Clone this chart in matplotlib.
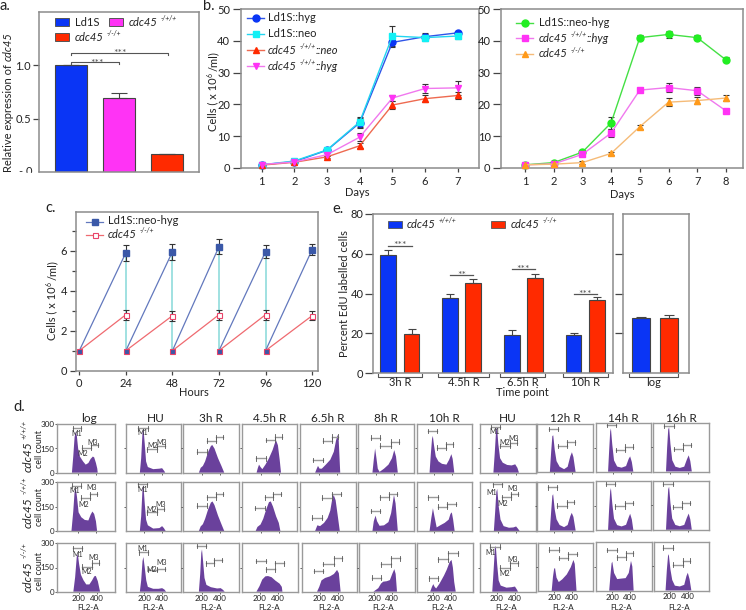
import matplotlib
matplotlib.use('Agg')
import matplotlib.pyplot as plt
from matplotlib.patches import Rectangle

plt.rcParams['font.family'] = ['Lato', 'DejaVu Sans']

W, H = 746, 610
GREY = '#8c8c8c'
TXT = '#222222'
BLUE = '#0a35f5'
RED = '#ff2a00'
MAG = '#ff33f5'
PURPLE = '#6a419c'

# ---------- panel a
a_values = [1.0, 0.69, 0.165]
a_errors = [0.0, 0.05, 0.006]
a_positions = [71, 119, 167]
a_colors = [BLUE, MAG, RED]

# ---------- panel b left
days7 = [1, 2, 3, 4, 5, 6, 7]
b_hyg = [1.0, 2.0, 5.6, 14.2, 39.5, 41.3, 42.5]
b_hyg_err = [0.2, 0.3, 0.4, 1.5, 1.0, 1.0, 0.7]
b_neo = [1.0, 2.2, 5.7, 14.5, 41.5, 41.0, 41.5]
b_neo_err = [0.2, 0.3, 0.4, 1.5, 3.3, 1.0, 0.8]
b_cneo = [0.9, 1.8, 3.5, 7.0, 19.8, 21.8, 22.8]
b_cneo_err = [0.1, 0.3, 0.3, 0.8, 1.2, 1.2, 1.0]
b_chyg = [1.1, 1.9, 4.2, 9.7, 22.0, 25.0, 25.2]
b_chyg_err = [0.2, 0.3, 0.5, 1.3, 1.0, 1.4, 2.3]

# ---------- panel b right
days8 = [1, 2, 3, 4, 5, 6, 7, 8]
b2_wt = [1.0, 1.7, 5.0, 14.2, 41.0, 42.0, 41.0, 34.0]
b2_wt_err = [0.1, 0.2, 0.4, 1.8, 0.9, 1.2, 0.9, 0.8]
b2_chyg = [1.0, 1.3, 4.3, 11.0, 24.5, 25.3, 24.3, 18.0]
b2_chyg_err = [0.1, 0.2, 0.5, 1.2, 0.7, 1.3, 1.3, 0.7]
b2_ko = [1.0, 1.2, 1.7, 4.6, 13.0, 20.7, 21.2, 22.0]
b2_ko_err = [0.1, 0.1, 0.4, 0.5, 0.6, 1.2, 1.2, 0.9]

# ---------- panel c
hours = [24, 48, 72, 96, 120]
c_wt = [5.9, 5.95, 6.2, 5.95, 6.05]
c_wt_err = [0.4, 0.4, 0.38, 0.32, 0.28]
c_ko = [2.8, 2.75, 2.8, 2.8, 2.75]
c_ko_err = [0.25, 0.25, 0.25, 0.25, 0.24]
c_start = 1.0

# ---------- panel e
e_groups = ['3h R', '4.5h R', '6.5h R', '10h R']
e_blue = [59.5, 38.0, 19.3, 19.3]
e_blue_err = [2.5, 1.7, 2.5, 0.7]
e_red = [19.8, 45.5, 48.0, 36.8]
e_red_err = [2.3, 1.7, 1.8, 1.4]
e_blue_x = [388.2, 450.2, 511.8, 573.5]
e_red_x = [411.5, 473.2, 535.0, 596.8]
e_sig_y = [64.1, 49.2, 52.2, 39.8]
e_sig_txt = ['***', '**', '***', '***']
e_log = [27.8, 28.0]
e_log_err = [0.3, 1.5]
e_log_x = [641.2, 668.7]

# ---------- panel d: histogram outlines as (FL2-A, count)
hist_titles = ['log', 'HU', '3h R', '4.5h R', '6.5h R', '8h R', '10h R', 'HU', '12h R', '14h R', '16h R']
r1_log = [(135,0),(150,100),(165,220),(178,255),(190,230),(205,150),(225,100),(260,70),(290,50),(320,60),(345,85),(370,100),(385,95),(405,60),(420,25),(425,0)]
r1_hu = [(150,0),(165,90),(180,250),(190,275),(205,180),(220,70),(240,35),(300,22),(370,25),(400,28),(425,10),(435,0)]
r1_3h = [(165,0),(185,30),(210,42),(235,70),(270,130),(300,165),(315,172),(340,150),(380,90),(420,40),(450,0)]
r1_45h = [(150,0),(165,30),(178,50),(195,35),(215,22),(250,50),(290,90),(330,140),(360,190),(372,197),(390,170),(410,80),(425,0)]
r1_65h = [(160,0),(178,25),(192,42),(210,25),(235,25),(280,50),(330,80),(370,130),(395,200),(412,235),(425,200),(442,0)]
r1_8h = [(160,0),(175,80),(190,150),(205,90),(220,25),(240,5),(290,25),(340,50),(380,90),(405,140),(425,100),(445,0)]
r1_10h = [(150,0),(165,120),(178,210),(187,228),(200,170),(220,100),(250,70),(290,55),(340,50),(370,80),(395,115),(410,85),(428,0)]
r1_hu2 = [(145,0),(160,120),(175,260),(185,285),(200,180),(220,90),(250,62),(300,48),(350,45),(390,52),(415,30),(432,0)]
r1_12h = [(150,0),(165,130),(178,225),(188,230),(205,140),(225,70),(260,35),(310,20),(350,35),(380,100),(398,125),(415,95),(440,0)]
r1_14h = [(148,0),(160,130),(172,250),(180,268),(195,170),(215,70),(250,32),(300,25),(350,35),(380,80),(396,95),(415,60),(432,0)]
r1_16h = [(155,0),(168,150),(180,260),(190,275),(205,170),(225,70),(260,30),(310,22),(360,30),(390,75),(410,100),(428,65),(445,0)]

r2_log = [(130,0),(150,120),(165,240),(178,265),(192,210),(210,115),(240,85),(280,68),(320,65),(345,100),(365,120),(385,105),(405,60),(418,0)]
r2_hu = [(150,0),(165,90),(180,260),(190,285),(205,170),(220,70),(240,35),(300,15),(370,18),(400,30),(420,18),(440,0)]
r2_3h = [(165,0),(185,28),(210,42),(235,75),(270,135),(300,175),(318,182),(340,160),(380,95),(420,40),(450,0)]
r2_45h = [(140,0),(160,25),(195,40),(225,75),(260,135),(290,178),(310,182),(335,150),(370,90),(400,50),(418,0)]
r2_65h = [(160,0),(185,35),(215,30),(260,50),(300,80),(330,125),(350,190),(368,222),(390,190),(415,90),(437,0)]
r2_8h = [(160,0),(175,60),(195,95),(212,60),(240,32),(290,35),(340,55),(370,110),(390,180),(402,222),(420,170),(445,0)]
r2_10h = [(150,0),(170,80),(188,140),(205,90),(230,22),(270,35),(320,50),(365,70),(385,105),(400,115),(415,70),(432,0)]
r2_hu2 = [(150,0),(165,120),(178,240),(188,260),(205,150),(225,70),(260,30),(320,20),(370,22),(400,28),(420,15),(440,0)]
r2_12h = [(150,0),(165,120),(178,215),(187,225),(205,130),(225,70),(260,35),(310,22),(350,35),(380,90),(396,110),(415,85),(440,0)]
r2_14h = [(148,0),(160,130),(172,240),(180,258),(195,165),(215,70),(250,30),(300,22),(350,32),(380,78),(396,100),(415,65),(432,0)]
r2_16h = [(155,0),(168,140),(180,250),(190,265),(205,165),(225,70),(260,30),(310,22),(360,30),(390,75),(410,100),(428,65),(445,0)]

r3_log = [(140,0),(160,90),(178,215),(190,235),(205,170),(225,105),(255,70),(285,45),(320,45),(350,70),(375,95),(392,98),(415,65),(440,0)]
r3_hu = [(150,0),(165,70),(180,190),(190,215),(205,150),(222,70),(240,30),(300,18),(360,18),(400,22),(425,14),(445,0)]
r3_3h = [(165,0),(180,110),(192,240),(200,262),(212,190),(228,85),(250,42),(300,28),(370,20),(410,22),(435,12),(455,0)]
r3_45h = [(160,0),(195,35),(225,75),(260,95),(290,97),(330,90),(370,70),(420,50),(445,30),(452,0)]
r3_65h = [(170,0),(195,30),(220,70),(260,85),(315,95),(360,110),(395,135),(415,115),(435,0)]
r3_8h = [(190,0),(220,12),(245,22),(275,50),(300,62),(340,65),(375,72),(405,115),(425,140),(440,110),(455,0)]
r3_10h = [(165,0),(185,30),(200,47),(215,30),(232,20),(270,50),(320,100),(350,135),(385,185),(405,197),(420,150),(435,60),(452,0)]
r3_hu2 = [(150,0),(165,130),(180,270),(190,285),(205,170),(222,70),(245,38),(310,25),(370,28),(405,32),(425,15),(440,0)]
r3_12h = [(170,0),(185,90),(198,140),(208,145),(225,85),(250,58),(290,75),(340,105),(385,150),(415,195),(430,170),(450,0)]
r3_14h = [(165,0),(180,100),(192,170),(200,180),(220,110),(255,72),(300,75),(350,78),(385,110),(410,185),(425,150),(440,0)]
r3_16h = [(150,0),(165,130),(178,215),(186,225),(205,130),(225,65),(255,30),(310,25),(360,35),(385,90),(400,110),(420,70),(440,0)]

row1_hist = [r1_log, r1_hu, r1_3h, r1_45h, r1_65h, r1_8h, r1_10h, r1_hu2, r1_12h, r1_14h, r1_16h]
row2_hist = [r2_log, r2_hu, r2_3h, r2_45h, r2_65h, r2_8h, r2_10h, r2_hu2, r2_12h, r2_14h, r2_16h]
row3_hist = [r3_log, r3_hu, r3_3h, r3_45h, r3_65h, r3_8h, r3_10h, r3_hu2, r3_12h, r3_14h, r3_16h]

# gates (start, stop, height) for M1, M2, M3
row1_gates = [
    [(143,241,275),(245,347,155),(347,426,172)], [(132,238,275),(234,340,145),(340,434,165)],
    [(147,253,130),(253,358,198),(358,434,220)], [(143,253,89),(253,358,203),(358,434,223)],
    [(140,245,79),(245,347,199),(347,422,223)], [(147,249,217),(249,366,167),(366,453,192)],
    [(128,230,259),(230,336,155),(336,419,176)], [(117,219,285),(219,332,165),(332,415,186)],
    [(136,241,269),(241,347,165),(347,430,186)], [(132,234,290),(234,336,135),(336,423,155)],
    [(136,241,285),(241,343,138),(343,434,165)]]
row2_gates = [
    [(132,234,279),(234,339,205),(339,415,228)], [(132,234,288),(234,339,115),(339,426,136)],
    [(147,253,156),(253,358,207),(358,434,228)], [(132,241,142),(241,339,207),(339,422,228)],
    [(128,234,82),(234,347,205),(347,448,228)], [(143,245,123),(245,347,207),(347,434,228)],
    [(136,241,207),(241,351,150),(351,445,166)], [(136,238,288),(238,340,207),(340,423,228)],
    [(128,234,267),(234,339,155),(339,426,177)], [(125,230,285),(230,336,145),(336,423,165)],
    [(125,230,285),(230,339,140),(339,426,165)]]
row3_gates = [
    [(140,241,269),(241,347,155),(347,426,180)], [(136,245,244),(245,339,134),(339,434,140)],
    [(140,241,285),(241,336,176),(336,430,197)], [(155,264,190),(264,370,139),(370,475,176)],
    [(140,241,128),(241,362,172),(362,456,207)], [(173,271,87),(271,392,170),(392,486,207)],
    [(155,257,83),(257,370,200),(370,472,238)], [(125,238,280),(238,351,150),(351,438,176)],
    [(143,253,259),(253,358,207),(358,453,232)], [(136,249,253),(249,351,207),(351,438,232)],
    [(125,238,265),(238,343,160),(343,426,185)]]

# (column, row) -> label anchors (FL2-A, count) for M1, M2, M3
gate_labels = {
    (0,0): [(185,240),(255,120),(365,190)], (1,0): [(185,250),(295,170),(390,190)], (7,0): [(160,255),(275,185),(375,210)],
    (0,1): [(170,250),(270,165),(355,265)], (1,1): [(185,255),(280,135),(385,165)], (7,1): [(130,240),(250,170),(365,260)],
    (0,2): [(190,230),(285,125),(370,210)], (1,2): [(185,270),(285,140),(395,180)], (7,2): [(130,240),(290,110),(375,200)],
}

# pixel layout of histogram cells
col_left = [57.3,125.7,183.3,241.7,300.3,358.3,416.7,480,537.3,596,653]
col_right = [115,180.7,239.3,297.3,356,414.3,472.3,535.7,592.7,651,709]
col_t200 = [77.7,144.3,202,261,318.7,376,434,498.3,554.3,612.7,670]
r3_left = [57.3,125.7,183.3,241.7,301.7,359.3,417.3,480,538.3,596,654]
r3_right = [115,180.7,239.3,298.3,356.7,415,473.3,535.7,593.3,651.7,709.3]
r3_t200 = [78.7,144.3,202,260,319.7,374.3,433.3,496.7,554.3,612.3,670]
row_top = [424.3,482.3,543.3]
row_bottom = [472.7,531,591.7]
col_dy = [0,0,0,0,0,0,0,0,-0.3,-1,-1.2]
PX_PER_UNIT = 0.089

fig = plt.figure(figsize=(W/100, H/100), dpi=100, facecolor='white')
renderer = fig.canvas.get_renderer()


def axpx(l, r, t, b):
    ax = fig.add_axes([l/W, 1-b/H, (r-l)/W, (b-t)/H])
    for s in ax.spines.values():
        s.set_color(GREY)
        s.set_linewidth(1.1)
    ax.patch.set_alpha(0)
    return ax


ov = fig.add_axes([0, 0, 1, 1], zorder=50)
ov.set_xlim(0, W)
ov.set_ylim(H, 0)
ov.axis('off')


def T(x, y, s, size=8, ha='center', va='center', **kw):
    kw.setdefault('color', TXT)
    return ov.text(x, y, s, fontsize=size, ha=ha, va=va, **kw)


def rich(x, y, parts, size=8, ha='left', rotation=0):
    """parts: (text, style) where style is 'n', 'i', 's' (superscript) or 'g' (gap, em)."""
    px = size*100/72
    spans = []
    total = 0
    for text, st in parts:
        if st == 'g':
            total += text*px
            spans.append((None, None, None, text*px))
            continue
        fs = size*(0.62 if st.startswith('s') else 1)
        style = 'italic' if 'i' in st else 'normal'
        tmp = fig.text(0, 0, text, fontsize=fs, style=style)
        w = tmp.get_window_extent(renderer).width
        tmp.remove()
        spans.append((text, fs, style, w))
        total += w
    off = -total/2 if ha == 'center' else 0
    for (text, fs, style, w), (_, st) in zip(spans, parts):
        if text is not None:
            raise_ = 0.38*px if st.startswith('s') else 0
            if rotation == 90:
                px_x, px_y = x + 0.33*px - raise_, y - off
            else:
                px_x, px_y = x + off, y + 0.33*px - raise_
            ov.text(px_x, px_y, text, fontsize=fs, style=style, color=TXT, ha='left', va='baseline',
                    rotation=rotation, rotation_mode='anchor')
        off += w


def cdc(sup, suffix=''):
    parts = [('cdc45', 'i'), (0.25, 'g'), (sup, 'si')]
    if suffix:
        parts.append((suffix, 'i'))
    return parts


def ticks(ax, lx=4.2, ly=3, size=8):
    ax.tick_params(axis='x', length=ly, width=0.9, color='#444444', labelsize=size, pad=2.5, labelcolor=TXT)
    ax.tick_params(axis='y', length=lx, width=0.9, color='#444444', labelsize=size, pad=1.5, labelcolor=TXT)


def bracket(ax, x0, x1, y, drop, color='#555555'):
    ax.plot([x0, x0, x1, x1], [y-drop, y, y, y-drop], color=color, lw=0.8, clip_on=False)


CELLS = [('Cells ( x 10', 'n'), ('6', 's'), (0.2, 'g'), ('/ml)', 'n')]

# ---------- a
ax = axpx(39, 199, 12, 172)
ax.set_xlim(39, 199)
ax.set_ylim(0, 160/107)
ax.bar(a_positions, a_values, width=32, color=a_colors, edgecolor='#444444', linewidth=0.8,
       yerr=[[0]*3, a_errors], error_kw=dict(ecolor='#444444', elinewidth=0.8, capsize=6, capthick=0.8))
ax.set_yticks([0.5, 1.0], ['0.5', '1.0'])
ax.set_xticks([])
ticks(ax)
bracket(ax, 71, 119, 1.025, 0.02)
bracket(ax, 71, 168, 1.11, 0.02)
T(97, 65.5, '***', 7.5, va='baseline', color='#555555')
T(120, 55.5, '***', 7.5, va='baseline', color='#555555')
rich(8, 102, [('Relative expression of', 'n'), (0.25, 'g'), ('cdc45', 'i')], 8, ha='center', rotation=90)
T(26, 171.5, '- 0', 8)
ov.add_patch(Rectangle((10, 172.5), 28, 6, color='white', zorder=5))
for x, y, c, lab in [(54.7, 18, BLUE, [('Ld1S', 'n')]), (108.7, 18, MAG, cdc('-/+/+')), (54.7, 33, RED, cdc('-/-/+'))]:
    ov.add_patch(Rectangle((x, y), 14, 8, facecolor=c, edgecolor='#555555', lw=0.7))
    rich(x+20, y+4, lab, 8)
T(0, 6, 'a.', 10.5, ha='left')


# ---------- b
def line(ax, x, y, e, c, lc, m, ms=5):
    ax.errorbar(x, y, yerr=e, color=lc, lw=1, marker=m, ms=ms, mfc=c, mec=c, ecolor='#333333',
                elinewidth=0.8, capsize=2.5, capthick=0.8, clip_on=False, zorder=3)


ax = axpx(240.5, 479, 9, 168)
ax.set_xlim(1-(261.7-240.5)/32.67, 1+(479-261.7)/32.67)
ax.set_ylim(0, 50)
line(ax, days7, b_hyg, b_hyg_err, BLUE, '#2f55e8', 'o')
line(ax, days7, b_neo, b_neo_err, '#12f0f5', '#22d5f0', 's')
line(ax, days7, b_cneo, b_cneo_err, RED, '#ee6a50', '^')
line(ax, days7, b_chyg, b_chyg_err, MAG, '#f078ee', 'v')
ax.set_xticks(days7)
ax.set_yticks(range(0, 51, 10))
ticks(ax, 6)
T(357, 193, 'Days', 8)
rich(213, 91, CELLS, 8, ha='center', rotation=90)
T(203, 6, 'b.', 10.5, ha='left')
for y, c, lc, m, lab in [(17.5, BLUE, '#2f55e8', 'o', [('Ld1S::hyg', 'n')]), (33.5, '#12f0f5', '#22d5f0', 's', [('Ld1S::neo', 'n')]),
                         (50, RED, '#ee6a50', '^', cdc('-/+/+', '::neo')), (66, MAG, '#f078ee', 'v', cdc('-/+/+', '::hyg'))]:
    ov.plot([247, 264], [y, y], color=lc, lw=1)
    ov.plot([255.5], [y], marker=m, ms=5, color=c)
    rich(268, y, lab, 8)

ax = axpx(501, 743, 9, 168)
ax.set_xlim(1-(525-501)/28.7, 1+(743-525)/28.7)
ax.set_ylim(0, 50)
line(ax, days8, b2_wt, b2_wt_err, '#22ee22', '#44e044', 'o')
line(ax, days8, b2_chyg, b2_chyg_err, MAG, '#f078ee', 's')
line(ax, days8, b2_ko, b2_ko_err, '#ff9a1a', '#f5bb78', '^')
ax.set_xticks(days8)
ax.set_yticks(range(0, 51, 10))
ticks(ax, 6)
T(622, 194, 'Days', 8)
for y, c, lc, m, lab in [(22.5, '#22ee22', '#44e044', 'o', [('Ld1S::neo-hyg', 'n')]), (38, MAG, '#f078ee', 's', cdc('-/+/+', '::hyg')),
                         (53.5, '#ff9a1a', '#f5bb78', '^', cdc('-/-/+'))]:
    ov.plot([516, 533], [y, y], color=lc, lw=1)
    ov.plot([524.5], [y], marker=m, ms=5, color=c)
    rich(539, y, lab, 8)

# ---------- c
ax = axpx(75.7, 318, 211.7, 370.7)
ax.set_xlim(-(79.3-75.7)/1.94, (318-79.3)/1.94)
ax.set_ylim(0, 159/20)
C_B, C_R = '#3a58a8', '#e8446a'
prev = 0
for i, h in enumerate(hours):
    ax.plot([prev, h], [c_start, c_ko[i]], color='#ef6a70', lw=0.9, zorder=2)
    ax.plot([prev, h], [c_start, c_wt[i]], color='#6278bd', lw=0.9, zorder=2)
    if h != hours[-1]:
        ax.plot([h, h], [c_start, c_wt[i]], color='#86d8d8', lw=1.1, zorder=1)
    ax.plot([prev], [c_start], marker='s', ms=3.6, mfc=C_B, mec=C_R, mew=0.8, zorder=5, ls='none')
    prev = h
ax.errorbar(hours, c_wt, yerr=c_wt_err, ls='none', marker='s', ms=3.8, color=C_B, ecolor='#333333',
            elinewidth=0.8, capsize=2, capthick=0.8, zorder=4)
ax.errorbar(hours, c_ko, yerr=c_ko_err, ls='none', marker='s', ms=3.6, mfc='white', mec=C_R, mew=0.8,
            ecolor='#333333', elinewidth=0.8, capsize=2, capthick=0.8, zorder=4)
ax.set_xticks([0] + hours)
ax.set_yticks([0, 2, 4, 6])
ax.set_yticks([1, 3, 5, 7], minor=True)
ticks(ax, 4.5)
ax.tick_params(axis='y', which='minor', length=3, width=0.9, color='#444444')
T(194, 392, 'Hours', 8)
rich(52, 300, CELLS, 8, ha='center', rotation=90)
T(45, 208, 'c.', 10.5, ha='left')
ov.plot([86, 103], [222, 222], color='#6278bd', lw=0.9)
ov.plot([94.5], [222], marker='s', ms=3.8, color=C_B)
T(108, 221, 'Ld1S::neo-hyg', 8, ha='left')
ov.plot([86, 103], [235, 235], color='#ef6a70', lw=0.9)
ov.plot([94.5], [235], marker='s', ms=3.6, mfc='white', mec=C_R, mew=0.8)
rich(108, 234, cdc('-/-/+'), 8)

# ---------- e
ax = axpx(373.3, 612.7, 214, 373.3)
ax.set_xlim(373.3, 612.7)
ax.set_ylim(0, 80)
ax.bar(e_blue_x, e_blue, width=15.8, color=BLUE, edgecolor='#444444', linewidth=0.8,
       yerr=[[0]*4, e_blue_err], error_kw=dict(ecolor='#444444', elinewidth=0.8, capsize=3.1, capthick=0.8))
ax.bar(e_red_x, e_red, width=15.8, color=RED, edgecolor='#444444', linewidth=0.8,
       yerr=[[0]*4, e_red_err], error_kw=dict(ecolor='#444444', elinewidth=0.8, capsize=3.1, capthick=0.8))
ax.set_xticks([])
ax.set_yticks(range(0, 81, 20))
ticks(ax, 5.5)
for bx, rx, y, s in zip(e_blue_x, e_red_x, e_sig_y, e_sig_txt):
    ax.plot([bx, rx], [y, y], color='#555555', lw=0.9)
    ax.text((bx+rx)/2, y-1.4, s, fontsize=7.5, ha='center', va='baseline', color='#555555')
ax = axpx(622.7, 689.3, 214, 373.3)
ax.set_xlim(622.7, 689.3)
ax.set_ylim(0, 80)
ax.bar(e_log_x, e_log, width=17.8, color=[BLUE, RED], edgecolor='#444444', linewidth=0.8,
       yerr=[[0, 0], e_log_err], error_kw=dict(ecolor='#444444', elinewidth=0.8, capsize=3.6, capthick=0.8))
ax.set_xticks([])
ax.set_yticks([20, 40, 60], ['', '', ''])
ticks(ax, 5.5)
for x0, x1, lab in [(377.7, 422.3, '3h R'), (438.3, 489.3, '4.5h R'), (500.3, 545.3, '6.5h R'),
                    (563.3, 607.7, '10h R'), (629.3, 678.3, 'log')]:
    ov.plot([x0, x0, x1, x1], [374, 376.5, 376.5, 374], color='#555555', lw=0.8)
    T((x0+x1)/2, 382.5, lab, 8)
T(522, 392.5, 'Time point', 8)
T(345, 294, 'Percent EdU labelled cells', 8, rotation=90)
T(332, 209, 'e.', 10.5, ha='left')
for x, c, lab, lx in [(388, BLUE, cdc('+/+/+'), 407), (491, RED, cdc('-/-/+'), 511)]:
    ov.add_patch(Rectangle((x, 221), 14, 7, facecolor=c, edgecolor='#555555', lw=0.6))
    rich(lx, 224, lab, 8)

# ---------- d
all_hist = [row1_hist, row2_hist, row3_hist]
all_gates = [row1_gates, row2_gates, row3_gates]
for r in range(3):
    for c in range(11):
        if r == 2:
            l, rr, t0 = r3_left[c], r3_right[c], r3_t200[c]
        else:
            l, rr, t0 = col_left[c], col_right[c], col_t200[c]
        dy = col_dy[c]
        ax = axpx(l, rr, row_top[r]+dy, row_bottom[r]+dy)
        for s in ax.spines.values():
            s.set_color('#9a9a9a')
            s.set_linewidth(1.0)
        ax.set_xlim(200+(l-t0)/PX_PER_UNIT, 200+(rr-t0)/PX_PER_UNIT)
        ax.set_ylim(0, 300)
        xs = [p[0] for p in all_hist[r][c]]
        ys = [p[1] for p in all_hist[r][c]]
        ax.fill(xs, ys, color=PURPLE, lw=0)
        for g0, g1, gy in all_gates[r][c]:
            ax.plot([g0, g1], [gy, gy], color='#9a9a9a', lw=1.0, clip_on=False)
            for gx in (g0, g1):
                ax.plot([gx, gx], [gy-14, gy+14], color='#555555', lw=0.6, clip_on=False)
        if (c, r) in gate_labels:
            for (lx, ly), name in zip(gate_labels[(c, r)], ['M1', 'M2', 'M3']):
                ax.text(lx, ly, name, fontsize=5, ha='center', va='center', color='#333333')
        ax.set_xticks([200, 400], ['200', '400'] if r == 2 else ['', ''])
        ax.set_yticks([0, 150, 300], ['0', '150', '300'] if c == 0 else ['', '', ''])
        ax.tick_params(axis='both', length=1.3, width=0.6, color='#444444', labelsize=5.8, pad=0.8, labelcolor=TXT)
        if c > 0:
            ax.set_yticks([150], [''])
        if r == 2:
            T(t0+9, 607, 'FL2-A', 5.8)
for c, title in enumerate(hist_titles):
    T((col_left[c]+col_right[c])/2 + (3 if c < 2 else 0), 418, title, 8.5)
for yy, cy, lab in [(446, 449, cdc('+/+/+')), (502, 507, cdc('-/+/+')), (567, 571, cdc('-/-/+'))]:
    rich(27.5, yy, lab, 8.5, ha='center', rotation=90)
    T(39.5, cy, 'cell count', 6.4, rotation=90)
T(13, 407, 'd.', 10.5, ha='left')

fig.savefig('out.png', dpi=100)
